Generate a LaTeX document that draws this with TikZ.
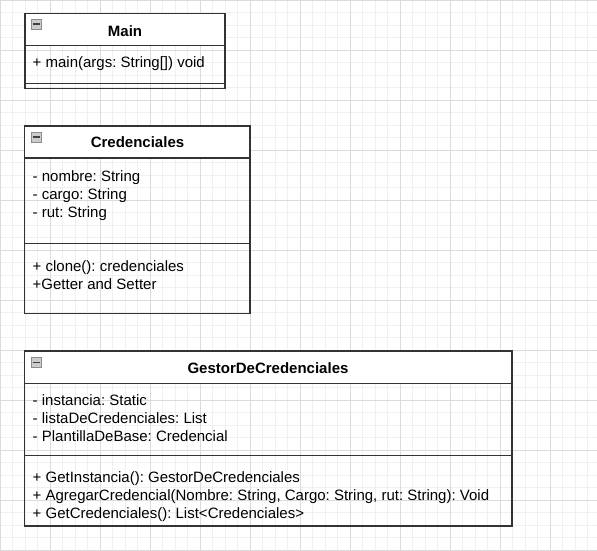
\documentclass[tikz,border=0pt]{standalone}
\usepackage{fontspec}
\setmainfont{Liberation Sans}
\frenchspacing
\begin{document}
\begin{tikzpicture}[x=1pt,y=-1pt,
  minorgrid/.style={draw=black!6, line width=0.8pt},
  majorgrid/.style={draw=black!14, line width=0.8pt},
  boxline/.style={draw=black!80, line width=1.4pt},
  hdr/.style={boxline, fill=white},
  txt/.style={anchor=base west, inner sep=0pt, font=\fontsize{15}{16}\selectfont},
  ttl/.style={anchor=base, inner sep=0pt, font=\fontsize{15}{16}\selectfont\bfseries},
  icon/.style={draw=black!45, fill=black!20, line width=0.6pt}
]
\useasboundingbox (0,0) rectangle (597,551);
\fill[white] (0,0) rectangle (597,551);
% grid
\foreach \i in {0,...,48} {
  \draw[minorgrid] (\i*12.5,0) -- (\i*12.5,551);
}
\foreach \i in {0,...,44} {
  \draw[minorgrid] (0,\i*12.5) -- (597,\i*12.5);
}
\foreach \i in {0,...,11} {
  \draw[majorgrid] (\i*50,0) -- (\i*50,551);
}
\foreach \i in {0,...,11} {
  \draw[majorgrid] (0,\i*50) -- (597,\i*50);
}

% ---------- Main ----------
\draw[hdr] (25,13.5) rectangle (225,45.5);
\draw[boxline] (25,45.5) rectangle (225,88.5);
\draw[boxline] (25,83.3) -- (225,83.3);
\draw[icon] (31,19) rectangle (41,29);
\draw[black!75, line width=1.2pt] (32.5,24) -- (39.5,24);
\node[ttl] (mainT) at (125,36.3) {Main};
\node[txt] (mainM) at (32.5,67) {+ main(args: String[]) void};

% ---------- Credenciales ----------
\draw[hdr] (24.5,126) rectangle (250,158);
\draw[boxline] (24.5,158) rectangle (250,313.5);
\draw[boxline] (24.5,243.7) -- (250,243.7);
\draw[icon] (31,132) rectangle (41,142);
\draw[black!75, line width=1.2pt] (32.5,137) -- (39.5,137);
\node[ttl] (credT) at (137.5,147.8) {Credenciales};
\node[txt] (credA1) at (32.5,181) {- nombre: String};
\node[txt] (credA2) at (32.5,199) {- cargo: String};
\node[txt] (credA3) at (32.5,217) {- rut: String};
\node[txt] (credM1) at (32.5,271) {+ clone(): credenciales};
\node[txt] (credM2) at (32.5,289) {+Getter and Setter};

% ---------- GestorDeCredenciales ----------
\draw[hdr] (24.5,351) rectangle (512,383.5);
\draw[boxline] (24.5,383.5) rectangle (512,526);
\draw[boxline] (24.5,455.5) -- (512,455.5);
\draw[icon] (31,357.5) rectangle (41,367.5);
\draw[black!75, line width=1.2pt] (32.5,362.5) -- (39.5,362.5);
\node[ttl] (gesT) at (268,373.3) {GestorDeCredenciales};
\node[txt] (gesA1) at (32.5,405.5) {- instancia: Static};
\node[txt] (gesA2) at (32.5,423.5) {- listaDeCredenciales: List};
\node[txt] (gesA3) at (32.5,441.5) {- PlantillaDeBase: Credencial};
\node[txt] (gesM1) at (32.5,482.5) {+ GetInstancia(): GestorDeCredenciales};
\node[txt] (gesM2) at (32.5,500.5) {+ AgregarCredencial(Nombre: String, Cargo: String, rut: String): Void};
\node[txt] (gesM3) at (32.5,518.5) {+ GetCredenciales(): List<Credenciales>};
\end{tikzpicture}
\end{document}
